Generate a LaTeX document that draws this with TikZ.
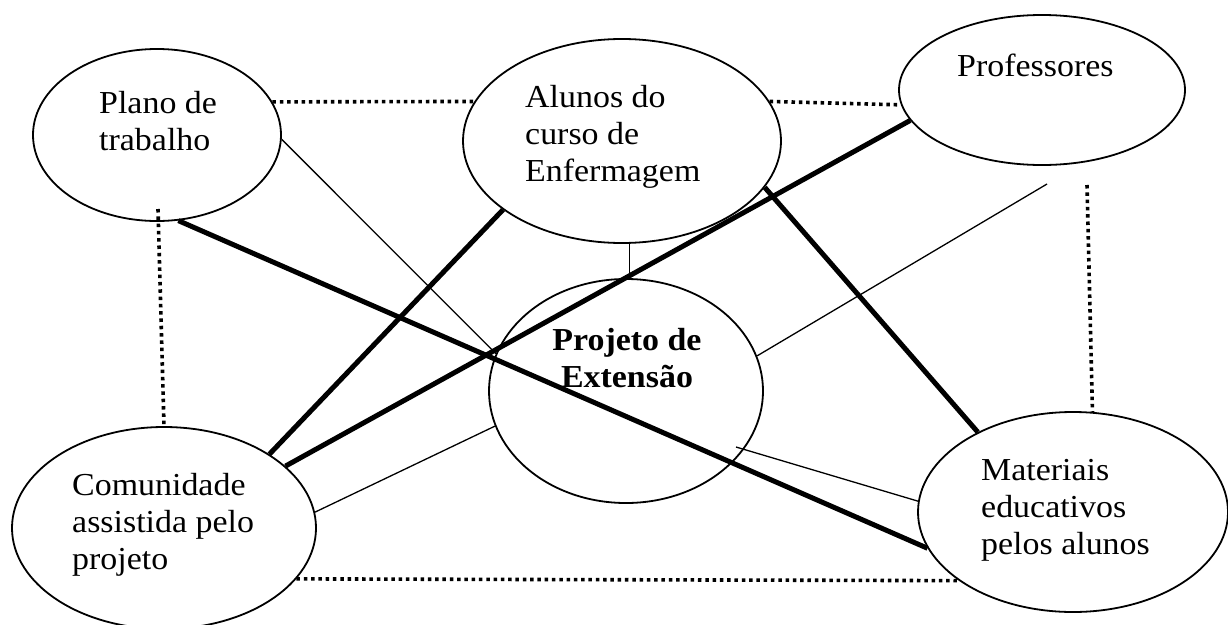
\documentclass[tikz,border=0pt]{standalone}
\usepackage{fontspec}
\setmainfont{Liberation Serif}[FakeStretch=1.06]
\usetikzlibrary{shapes.geometric}
\begin{document}
\begin{tikzpicture}[x=1pt,y=-1pt,
  ell/.style={draw, ellipse, line width=1.8pt, inner sep=0pt},
  lbl/.style={inner sep=0pt, font=\fontsize{32}{37.3}\selectfont},
  dotline/.style={line width=3.6pt, dash pattern=on 3.5pt off 3.8pt},
  heavy/.style={line width=5pt},
  light/.style={line width=1.3pt}]
\useasboundingbox (0,0) rectangle (1228,624);

% ellipses
\node[ell, minimum width=248pt, minimum height=172pt] (plano) at (157,135) {};
\node[ell, minimum width=318pt, minimum height=204pt] (alunos) at (622,141) {};
\node[ell, minimum width=286pt, minimum height=150pt] (prof) at (1042,90) {};
\node[ell, minimum width=274pt, minimum height=224pt] (proj) at (626,391) {};
\node[ell, minimum width=304pt, minimum height=202pt] (comu) at (164,528) {};
\node[ell, minimum width=310pt, minimum height=200pt] (mat) at (1073,512) {};

% texts
\node[lbl, anchor=base west] (tplano) at (99,113) {\begin{tabular}[t]{@{}l@{}}Plano de\\trabalho\end{tabular}};
\node[lbl, anchor=base west] (talunos) at (525,107) {\begin{tabular}[t]{@{}l@{}}Alunos do\\curso de\\Enfermagem\end{tabular}};
\node[lbl, anchor=base west] (tprof) at (957,76) {Professores};
\node[lbl, anchor=base] (tproj) at (627,350) {\bfseries\begin{tabular}[t]{@{}c@{}}Projeto de\\Extensão\end{tabular}};
\node[lbl, anchor=base west] (tcomu) at (72,495) {\begin{tabular}[t]{@{}l@{}}Comunidade\\assistida pelo\\projeto\end{tabular}};
\node[lbl, anchor=base west] (tmat) at (981,480) {\begin{tabular}[t]{@{}l@{}}Materiais\\educativos\\pelos alunos\end{tabular}};

% free ends
\coordinate (planoIn) at (158,209);
\coordinate (profBelowA) at (1047,184);
\coordinate (profBelowB) at (1087,185);
\coordinate (projIn) at (736,447);

% dotted connectors
\draw[dotline] (plano.16) -- (alunos.165);
\draw[dotline] (alunos.15) -- (prof.186);
\draw[dotline] (planoIn) -- (comu.90);
\draw[dotline] (profBelowB) -- (mat.79);
\draw[dotline] (comu.-21) -- (mat.211);

% heavy connectors
\draw[heavy] (plano.-76) -- (mat.194);
\draw[heavy] (comu.35) -- (alunos.210);
\draw[heavy] (comu.27) -- (prof.193);
\draw[heavy] (alunos.-18) -- (mat.140);

% light connectors
\draw[light] (plano.-2) -- (proj.164);
\draw[light] (alunos.-86) -- (alunos.-86 |- proj.north);
\draw[light] (profBelowA) -- (proj.15);
\draw[light] (comu.6) -- (proj.195);
\draw[light] (projIn) -- (mat.176);
\end{tikzpicture}
\end{document}
